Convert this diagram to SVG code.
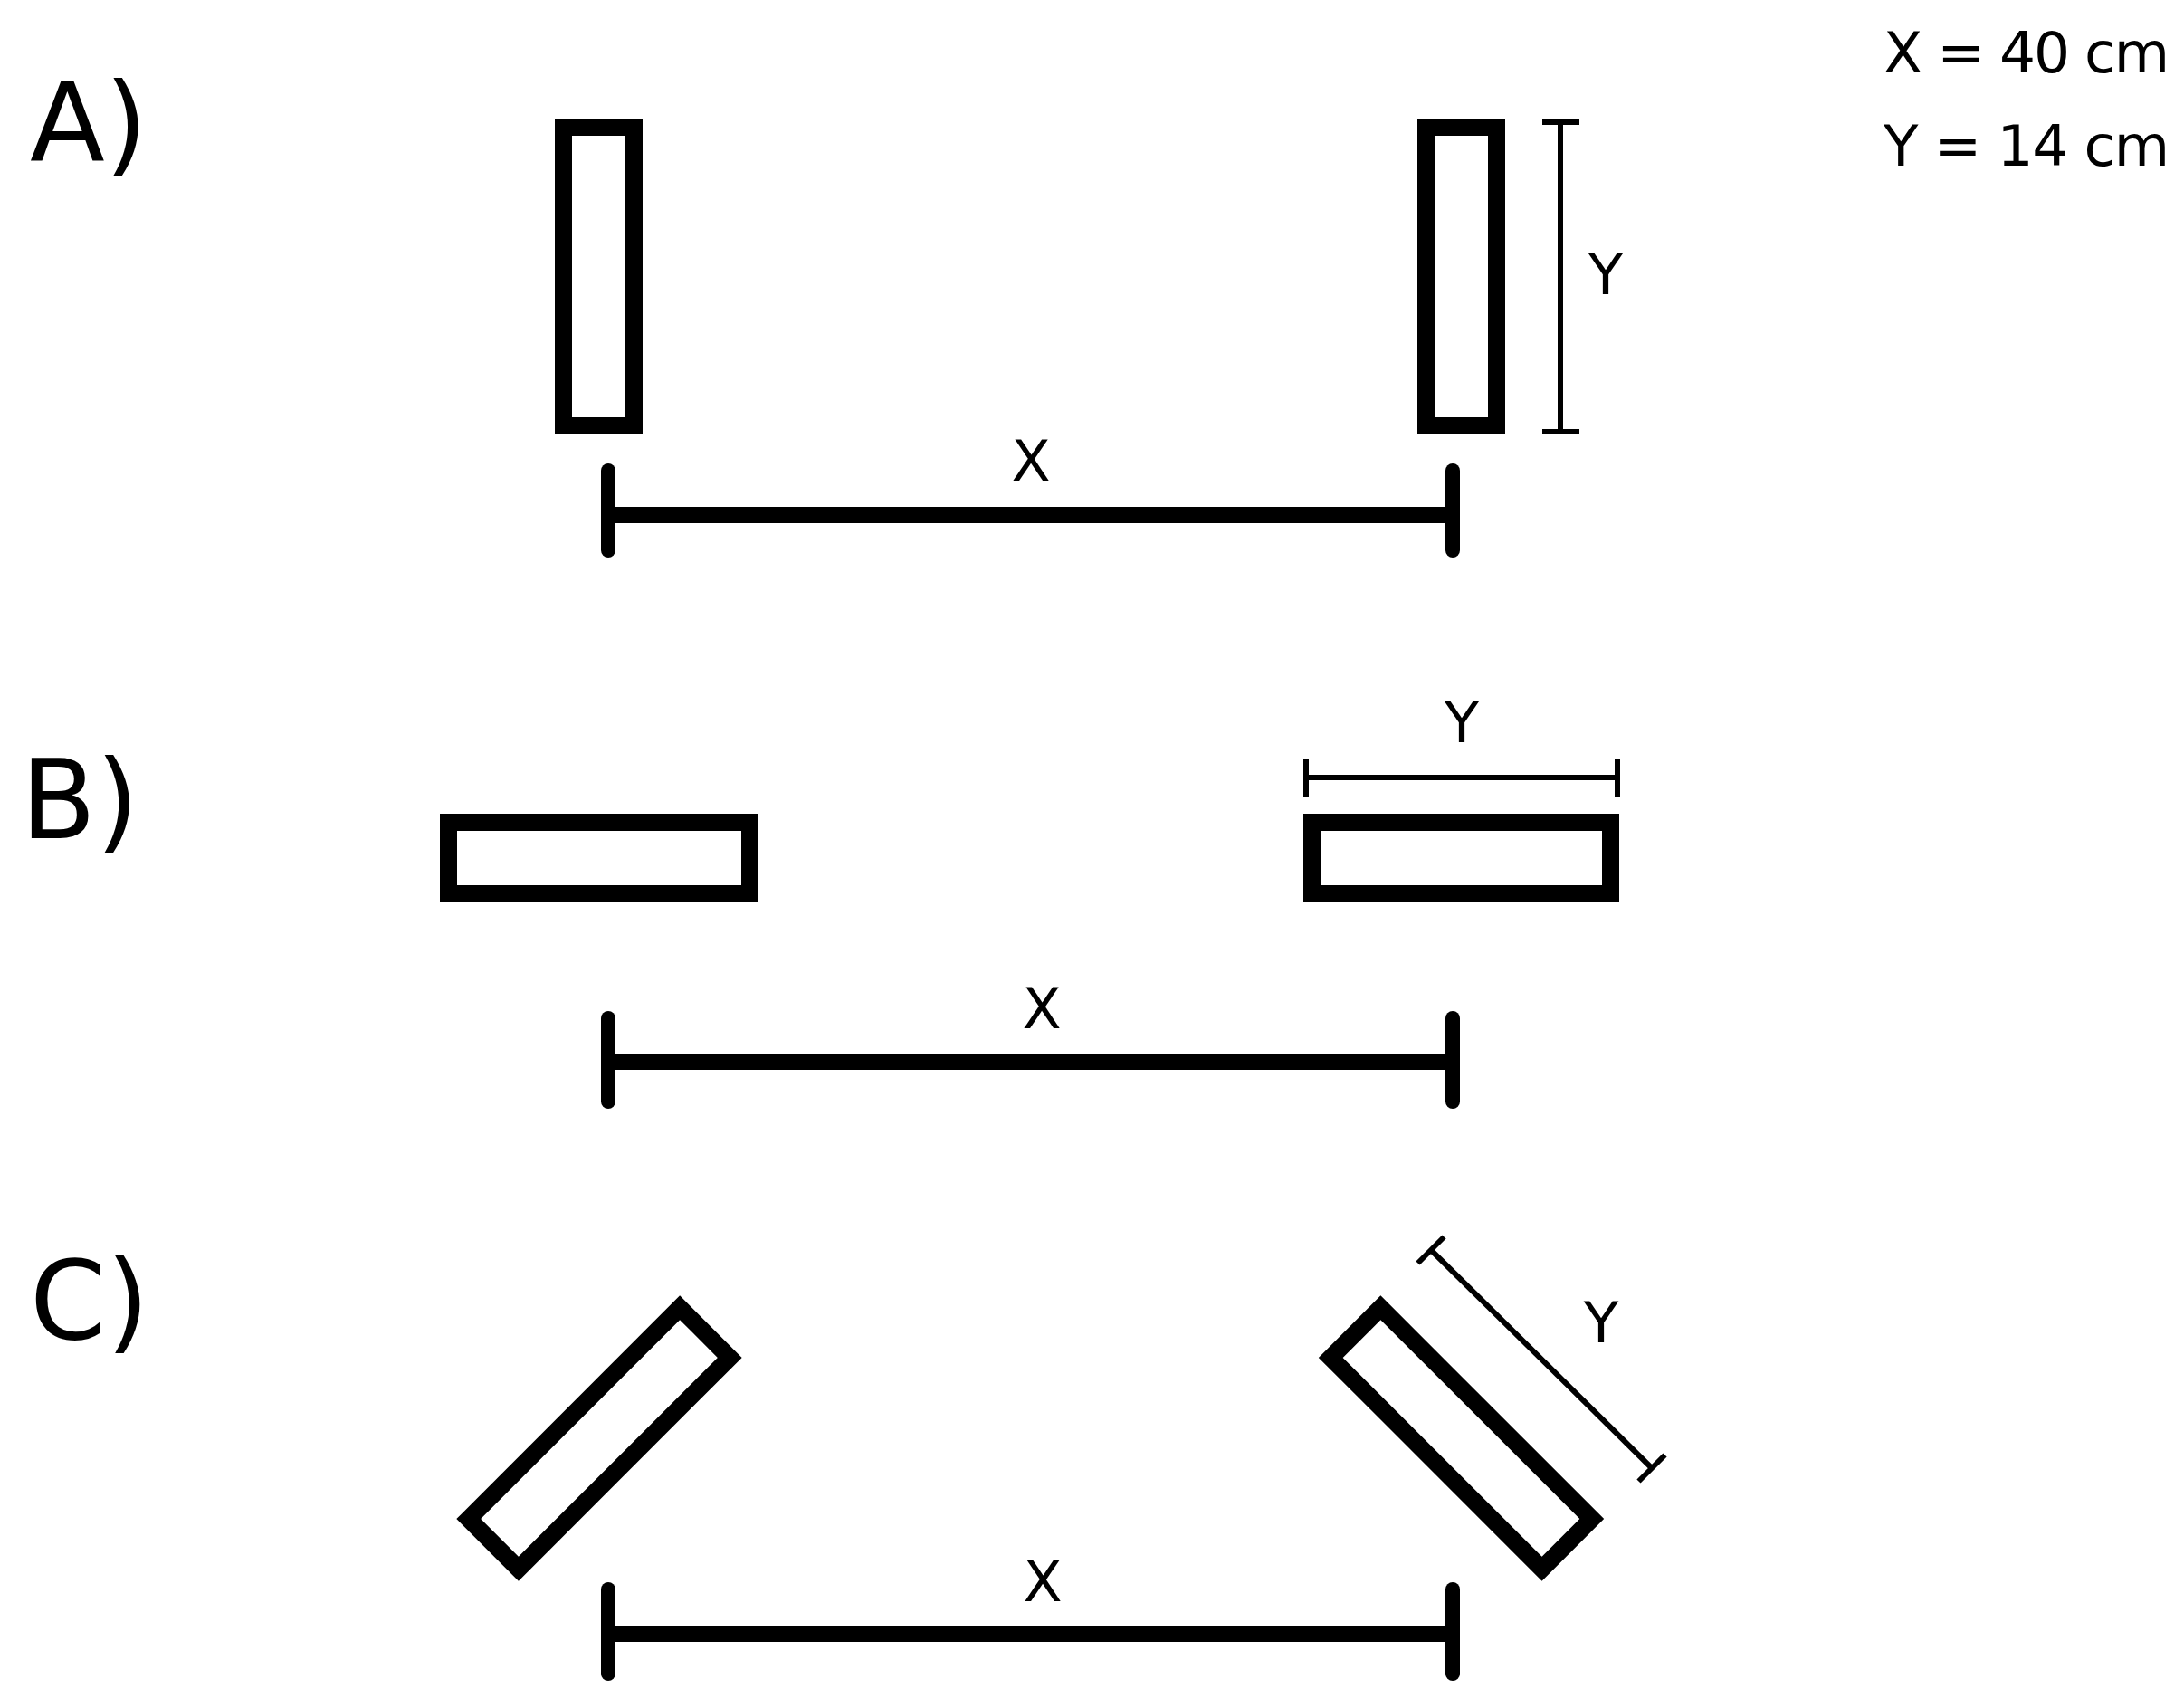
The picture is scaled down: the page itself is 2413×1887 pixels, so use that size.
<svg xmlns="http://www.w3.org/2000/svg" width="2413" height="1887" viewBox="0 0 2413 1887">
<style>
.bg{fill:#fff}
.board{fill:none;stroke:#000;stroke-width:19}
.bar{stroke:#000;stroke-width:18}
.tick{stroke:#000;stroke-width:16;stroke-linecap:round}
.dim{stroke:#000;stroke-width:6;fill:none}
.lbl{font-family:"DejaVu Sans","Liberation Sans",sans-serif;font-size:121px;fill:#000}
.t{font-family:"DejaVu Sans","Liberation Sans",sans-serif;font-size:63px;fill:#000}
.m{text-anchor:middle}
</style>
<rect class="bg" x="0" y="0" width="2413" height="1887"/>

<g id="legend">
<text class="t" x="2081" y="80" textLength="316" lengthAdjust="spacing">X = 40 cm</text>
<text class="t" x="2081" y="183" textLength="316" lengthAdjust="spacing">Y = 14 cm</text>
</g>

<g id="labels">
<text class="lbl" x="33" y="178">A)</text>
<text class="lbl" x="23" y="926">B)</text>
<text class="lbl" x="33" y="1479">C)</text>
</g>

<g id="A-left-board"><rect class="board" x="622.5" y="140.5" width="78" height="330"/></g>
<g id="A-right-board"><rect class="board" x="1575.5" y="140.5" width="78" height="330"/></g>
<g id="B-left-board"><rect class="board" x="495.5" y="908.5" width="333" height="79"/></g>
<g id="B-right-board"><rect class="board" x="1449.5" y="908.5" width="330" height="79"/></g>
<g id="C-left-board"><rect class="board" x="-39" y="-165" width="78" height="330" transform="translate(662 1589) rotate(45)"/></g>
<g id="C-right-board"><rect class="board" x="-39" y="-165" width="78" height="330" transform="translate(1614.5 1589) rotate(-45)"/></g>

<g id="dimensions">
<line class="bar" x1="672" y1="569" x2="1605" y2="569"/>
<line class="tick" x1="672" y1="520" x2="672" y2="608"/>
<line class="tick" x1="1605" y1="520" x2="1605" y2="608"/>

<line class="bar" x1="672" y1="1173" x2="1605" y2="1173"/>
<line class="tick" x1="672" y1="1125" x2="672" y2="1217"/>
<line class="tick" x1="1605" y1="1125" x2="1605" y2="1217"/>

<line class="bar" x1="672" y1="1805" x2="1605" y2="1805"/>
<line class="tick" x1="672" y1="1756" x2="672" y2="1849"/>
<line class="tick" x1="1605" y1="1756" x2="1605" y2="1849"/>

<line class="dim" x1="1724" y1="135" x2="1724" y2="477"/>
<line class="dim" x1="1704" y1="135" x2="1745" y2="135"/>
<line class="dim" x1="1704" y1="477" x2="1745" y2="477"/>

<line class="dim" x1="1443" y1="859" x2="1787" y2="859"/>
<line class="dim" x1="1443" y1="839" x2="1443" y2="880"/>
<line class="dim" x1="1787" y1="839" x2="1787" y2="880"/>

<line class="dim" x1="1581" y1="1381" x2="1825" y2="1622"/>
<line class="dim" x1="1566.5" y1="1395.5" x2="1595.5" y2="1366.5"/>
<line class="dim" x1="1810.5" y1="1636.5" x2="1839.5" y2="1607.5"/>
</g>

<g id="dimension-labels">
<text class="t m" x="1139" y="531">X</text>
<text class="t m" x="1151" y="1136">X</text>
<text class="t m" x="1152" y="1769">X</text>
<text class="t m" x="1774" y="325">Y</text>
<text class="t m" x="1615" y="820">Y</text>
<text class="t m" x="1769" y="1483">Y</text>
</g>
</svg>
